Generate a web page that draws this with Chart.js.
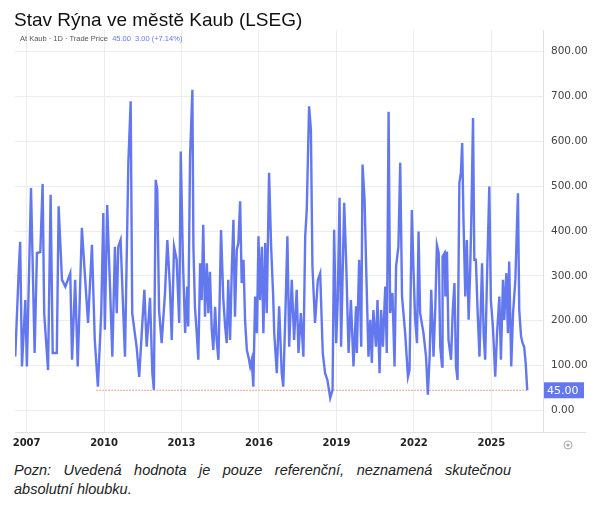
<!DOCTYPE html>
<html>
<head>
<meta charset="utf-8">
<script src="https://cdn.jsdelivr.net/npm/chart.js@4.4.1/dist/chart.umd.min.js"></script>
<style>
  body { margin: 0; background: #fff; width: 600px; height: 513px; overflow: hidden; position: relative; font-family: "Liberation Sans", Arial, sans-serif; }
  #wrap { position: absolute; left: 0; top: 0; width: 600px; height: 460px; }
  #title { position: absolute; left: 14px; top: 9px; font-size: 19px; color: #111; }
  #sub { position: absolute; left: 20px; top: 34px; font-size: 7.5px; color: #555; }
  #sub span { color: #6378ee; }
  #note { position: absolute; left: 14px; top: 461px; width: 497px; font-size: 14.5px; font-style: italic; line-height: 19px; text-align: justify; text-align-last: left; color: #222; }
</style>
</head>
<body>
<div id="wrap"><canvas id="chart"></canvas></div>
<div id="title">Stav Rýna ve městě Kaub (LSEG)</div>
<div id="sub">At Kaub · 1D · Trade Price &nbsp;<span>45.00 &nbsp;3.00 (+7.14%)</span></div>
<div id="note">Pozn: Uvedená hodnota je pouze referenční, neznamená skutečnou absolutní hloubku.</div>
<script>
// River level readings (decimal year, value)
const years = [
  2006.56, 2006.69, 2006.75, 2006.82, 2006.95,
  2007.01, 2007.17, 2007.31, 2007.40, 2007.53, 2007.62, 2007.68, 2007.83, 2007.93,
  2008.01, 2008.17, 2008.24, 2008.37, 2008.50, 2008.69, 2008.76, 2008.88, 2008.98,
  2009.14, 2009.27, 2009.38, 2009.53, 2009.64, 2009.76, 2009.89, 2009.97,
  2010.03, 2010.12, 2010.23, 2010.32, 2010.42, 2010.49, 2010.55, 2010.64, 2010.74, 2010.81, 2010.94,
  2011.03, 2011.09, 2011.26, 2011.36, 2011.46, 2011.56, 2011.65, 2011.78, 2011.87, 2011.93,
  2012.00, 2012.06, 2012.13, 2012.23, 2012.36, 2012.45, 2012.55, 2012.62, 2012.71, 2012.81, 2012.91, 2012.97,
  2013.05, 2013.14, 2013.22, 2013.26, 2013.33, 2013.42, 2013.46, 2013.52, 2013.59, 2013.65, 2013.72, 2013.78, 2013.84, 2013.91, 2013.98,
  2014.04, 2014.10, 2014.17, 2014.23, 2014.30, 2014.36, 2014.43, 2014.53, 2014.62, 2014.69, 2014.75, 2014.81, 2014.88, 2014.95,
  2015.01, 2015.07, 2015.14, 2015.20, 2015.27, 2015.33, 2015.40, 2015.46, 2015.53, 2015.59, 2015.66, 2015.72, 2015.78, 2015.85, 2015.92, 2015.98,
  2016.04, 2016.11, 2016.17, 2016.24, 2016.30, 2016.39, 2016.47, 2016.55, 2016.59, 2016.69, 2016.78, 2016.88, 2016.94,
  2017.03, 2017.10, 2017.17, 2017.27, 2017.36, 2017.46, 2017.53, 2017.62, 2017.72, 2017.79, 2017.85, 2017.94,
  2018.01, 2018.07, 2018.17, 2018.28, 2018.37, 2018.47, 2018.56, 2018.65, 2018.76, 2018.85, 2018.91, 2018.99,
  2019.05, 2019.12, 2019.18, 2019.30, 2019.38, 2019.47, 2019.56, 2019.66, 2019.76, 2019.79, 2019.88, 2019.96,
  2020.01, 2020.09, 2020.15, 2020.24, 2020.31, 2020.37, 2020.43, 2020.53, 2020.59, 2020.67, 2020.73, 2020.80, 2020.89, 2020.95,
  2021.02, 2021.08, 2021.17, 2021.25, 2021.31, 2021.40, 2021.47, 2021.54, 2021.66, 2021.77, 2021.83, 2021.92, 2021.98,
  2022.05, 2022.12, 2022.18, 2022.24, 2022.37, 2022.47, 2022.54, 2022.61, 2022.67, 2022.76, 2022.83, 2022.89, 2022.96,
  2023.02, 2023.09, 2023.11, 2023.19, 2023.22, 2023.28, 2023.34, 2023.44, 2023.50, 2023.57, 2023.63, 2023.69, 2023.76, 2023.82, 2023.87, 2023.92, 2023.99,
  2024.05, 2024.12, 2024.18, 2024.22, 2024.29, 2024.34, 2024.40, 2024.47, 2024.54, 2024.64, 2024.70, 2024.76, 2024.83, 2024.92, 2024.98,
  2025.06, 2025.15, 2025.22, 2025.31, 2025.37, 2025.45, 2025.50, 2025.58, 2025.64, 2025.69, 2025.77, 2025.84, 2025.93, 2025.99,
  2026.03, 2026.08, 2026.15, 2026.21, 2026.27, 2026.33, 2026.39
];
const levels = [
  120, 306, 376, 98, 246,
  98, 496, 128, 351, 353, 505, 217, 90, 481,
  128, 128, 455, 291, 276, 306, 113, 291, 98,
  407, 291, 195, 369, 157, 53, 217, 440,
  180, 458, 276, 120, 365, 217, 365, 380, 224, 120, 552,
  689, 217, 142, 75, 173, 269, 142, 251, 83, 46,
  514, 492, 224, 150, 262, 380, 276, 157, 365, 336, 195, 577,
  343, 173, 276, 187, 566, 715, 365, 230, 172, 113, 328, 246, 414, 209, 328,
  217, 309, 180, 135, 231, 157, 113, 402, 246, 187, 150, 291, 157, 321,
  425, 209, 358, 373, 466, 284, 336, 202, 135, 120, 98, 113, 53, 254, 172, 388,
  246, 365, 172, 373, 217, 530, 365, 254, 173, 83, 232, 83, 53,
  232, 388, 142, 291, 157, 269, 128, 217, 120, 388, 447, 678,
  626, 321, 195, 291, 306, 128, 83, 68, 28, 46, 403, 150,
  246, 474, 142, 463, 324, 128, 246, 98, 232, 128, 336, 142,
  548, 469, 321, 120, 202, 106, 224, 142, 246, 83, 224, 142, 276, 128,
  666, 217, 262, 98, 321, 365, 552, 254, 173, 75, 90, 447, 321,
  202, 150, 399, 217, 173, 120, 35, 120, 269, 120, 232, 369, 351,
  142, 98, 343, 351, 254, 354, 157, 113, 217, 284, 98, 68, 507, 530, 596, 425, 254,
  380, 202, 313, 417, 652, 336, 336, 217, 120, 328, 172, 113, 291, 499, 246,
  187, 75, 172, 254, 113, 291, 202, 306, 172, 332, 98, 217, 291, 410,
  484, 224, 165, 150, 142, 105, 45
];

// Dotted reference line at the latest value
const refYears = [2009.71, 2026.39];
const lastValue = 45;

// Tick labels
const xTicks = [2007, 2010, 2013, 2016, 2019, 2022, 2025];
const yTicks = [0, 100, 200, 300, 400, 500, 600, 700, 800];

const lineColor = '#6378ee';

const points = years.map((yr, i) => ({ x: yr, y: levels[i] }));
const refPoints = refYears.map(yr => ({ x: yr, y: lastValue }));

// Extra bits drawn on top: last value tag, axis line extension, settings icon
const extras = {
  id: 'extras',
  afterDraw(chart) {
    const { ctx, chartArea, scales } = chart;
    const py = scales.y.getPixelForValue(lastValue);
    ctx.save();
    ctx.strokeStyle = '#e0e0e0';
    ctx.lineWidth = 1;
    ctx.beginPath();
    ctx.moveTo(chartArea.right, chartArea.bottom + 0.5);
    ctx.lineTo(586, chartArea.bottom + 0.5);
    ctx.stroke();

    ctx.fillStyle = lineColor;
    ctx.fillRect(chartArea.right + 1, py - 8, 40, 16);
    ctx.fillStyle = '#fff';
    ctx.font = '11px "DejaVu Sans"';
    ctx.textBaseline = 'middle';
    ctx.fillText(lastValue.toFixed(2), chartArea.right + 4, py + 0.5);

    ctx.strokeStyle = '#aaa';
    ctx.beginPath();
    ctx.arc(568, 445, 4, 0, Math.PI * 2);
    ctx.stroke();
    ctx.fillStyle = '#aaa';
    ctx.beginPath();
    ctx.arc(568, 445, 1.6, 0, Math.PI * 2);
    ctx.fill();
    ctx.restore();
  }
};

new Chart(document.getElementById('chart'), {
  type: 'line',
  data: {
    datasets: [
      {
        data: points,
        borderColor: lineColor,
        borderWidth: 2.4,
        pointRadius: 0,
        tension: 0,
      },
      {
        data: refPoints,
        borderColor: '#e0443a',
        borderWidth: 1,
        borderDash: [1, 2],
        pointRadius: 0,
      },
    ],
  },
  options: {
    responsive: true,
    maintainAspectRatio: false,
    animation: false,
    layout: { padding: { left: 15, top: 30, right: 0, bottom: 0 } },
    plugins: { legend: { display: false }, tooltip: { enabled: false } },
    scales: {
      x: {
        type: 'linear',
        min: 2006.55,
        max: 2027.0,
        afterBuildTicks: (scale) => { scale.ticks = xTicks.map(v => ({ value: v })); },
        afterFit: (scale) => { scale.height = 28; },
        grid: { color: '#ececec', drawTicks: false },
        border: { color: '#e0e0e0' },
        ticks: {
          padding: 5,
          color: '#222',
          font: { family: 'DejaVu Sans', size: 10, weight: 'bold' },
          callback: (v) => String(v),
          maxRotation: 0,
        },
      },
      y: {
        position: 'right',
        min: -48,
        max: 848,
        afterBuildTicks: (scale) => { scale.ticks = yTicks.map(v => ({ value: v })); },
        afterFit: (scale) => { scale.width = 57; },
        grid: { color: '#ececec', drawTicks: false },
        border: { color: '#e0e0e0' },
        ticks: {
          padding: 8,
          color: '#444',
          font: { family: 'DejaVu Sans', size: 10.5 },
          callback: (v) => v.toFixed(2),
        },
      },
    },
  },
  plugins: [extras],
});
</script>
</body>
</html>
